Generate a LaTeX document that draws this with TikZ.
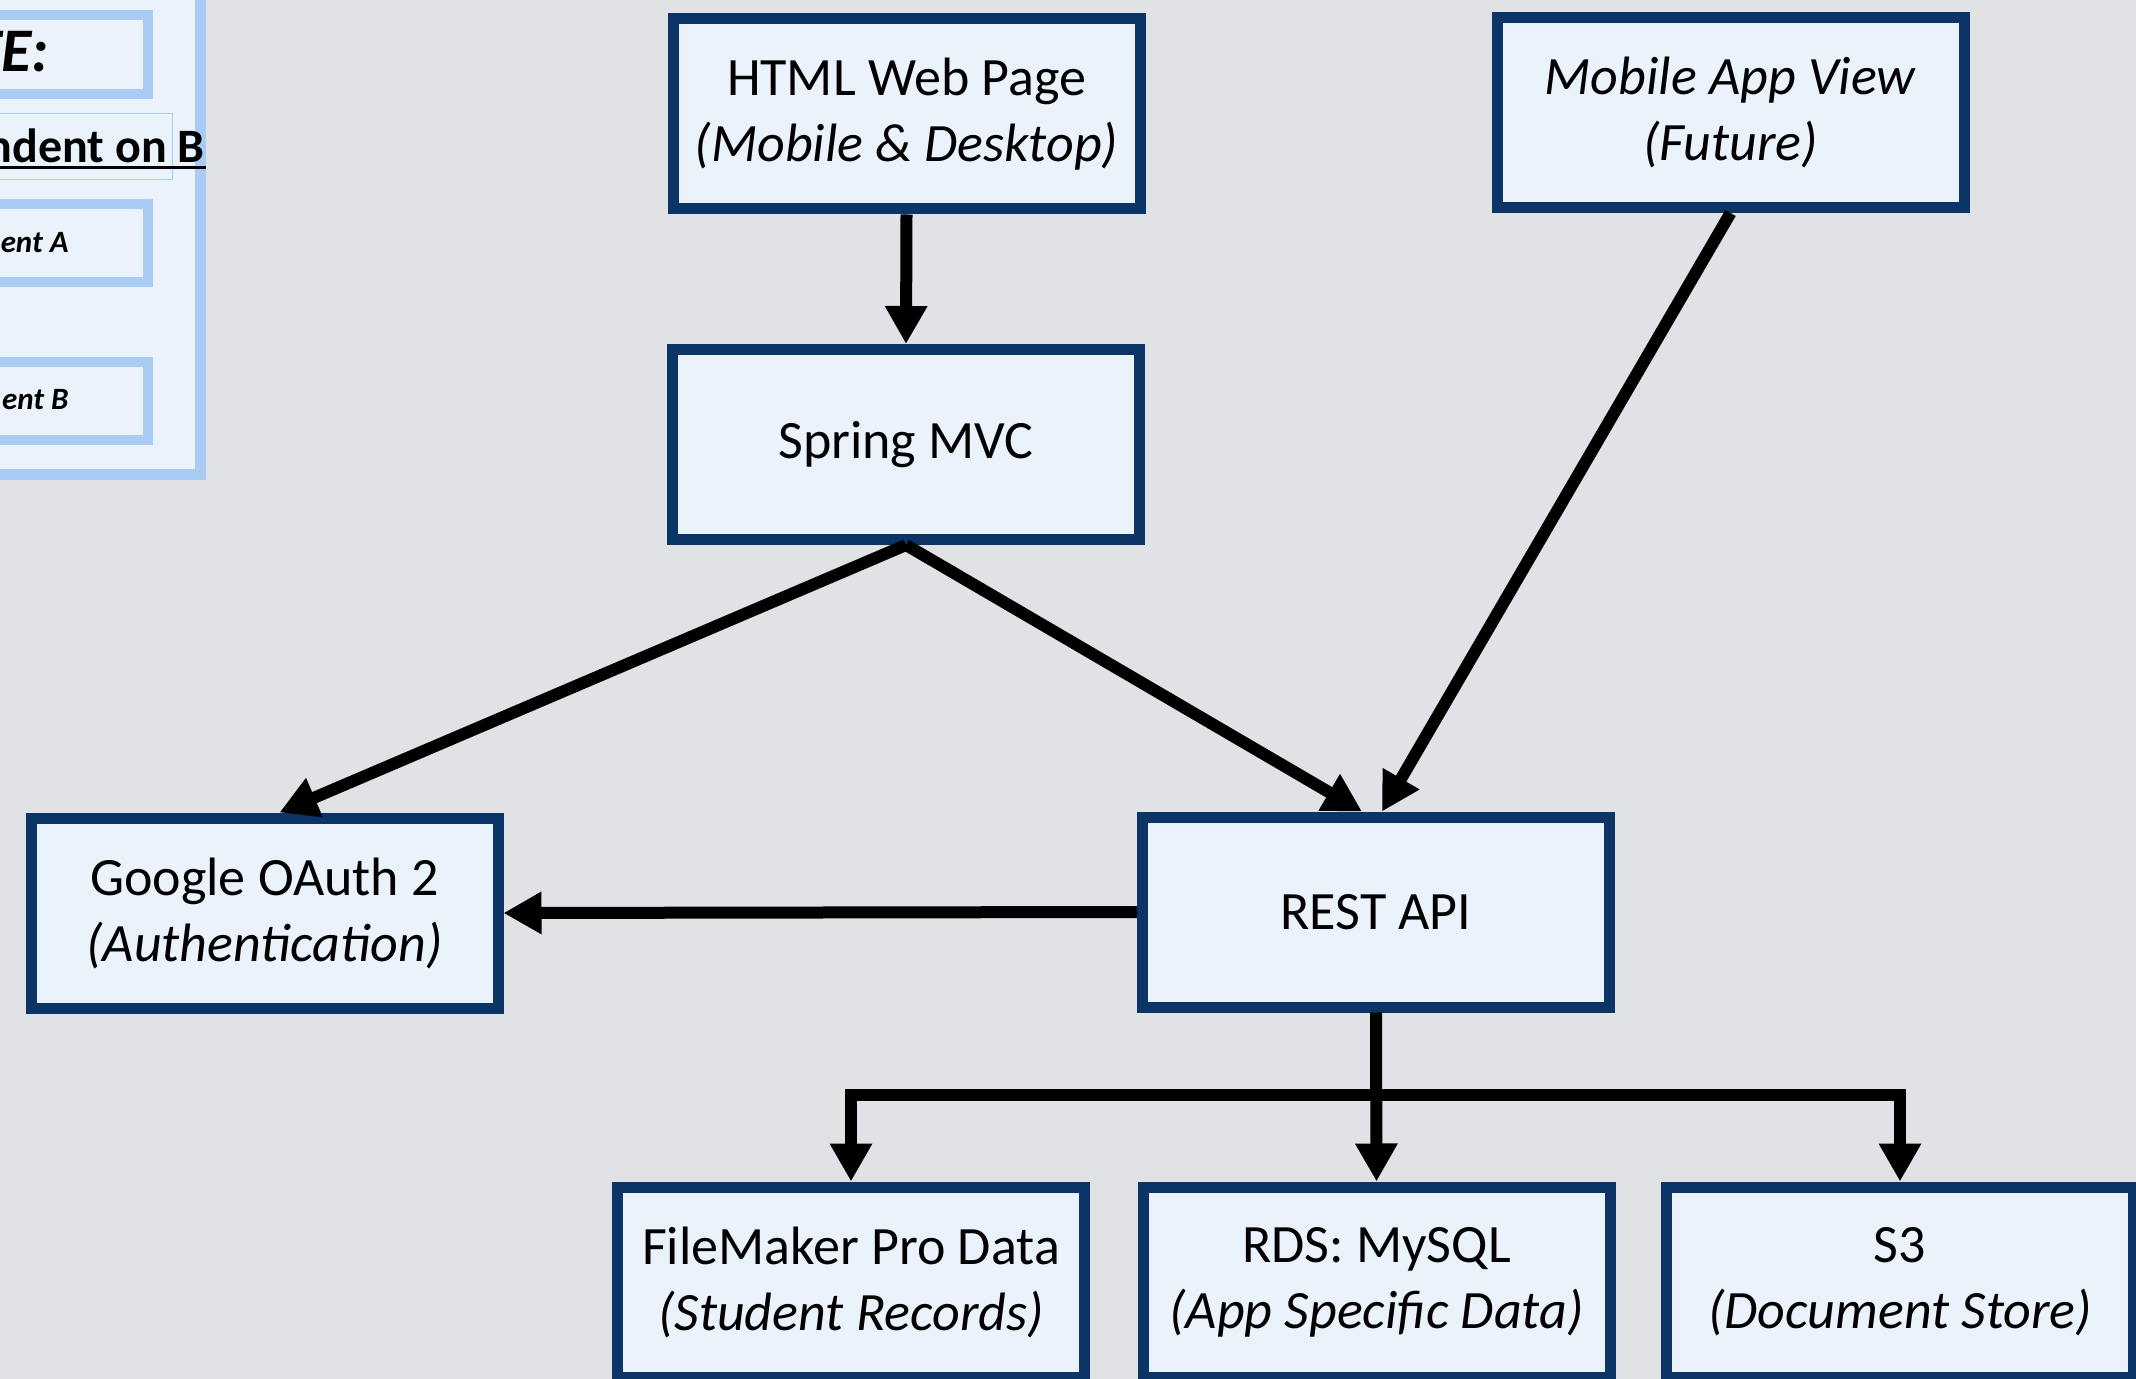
\documentclass[tikz,border=0pt]{standalone}
\usepackage{fontspec}
\setmainfont{Carlito}
\usetikzlibrary{arrows.meta,shadows,calc}
\definecolor{bg}{HTML}{E1E2E6}
\definecolor{boxfill}{HTML}{EAF2FC}
\definecolor{boxline}{HTML}{0B3566}
\definecolor{legline}{HTML}{A8CCF4}
\begin{document}
\begin{tikzpicture}[x=0.5pt,y=-0.5pt,
  box/.style={draw=boxline, fill=boxfill, line width=5.5pt, minimum width=233.5pt,
    minimum height=95pt, align=center, inner sep=0pt,
    font=\fontsize{27}{33}\selectfont,
    drop shadow={shadow xshift=1.5pt, shadow yshift=-1.5pt, opacity=0.25, fill=black}},
  legbox/.style={draw=legline, fill=boxfill, line width=5pt,
    drop shadow={shadow xshift=1.5pt, shadow yshift=-1.5pt, opacity=0.25, fill=black}},
  legtext/.style={anchor=base east, inner sep=0pt},
  conn/.style={line width=6pt, -{Triangle[length=19pt,width=20pt]}}]
\path[use as bounding box, fill=bg] (0,0) rectangle (2136,1379);
\clip (0,0) rectangle (2136,1379);

% legend panel
\path[legbox, line width=5.5pt] (-20,-20) rectangle (200.5,474.5);
\path[legbox] (-20,15) rectangle (148,94);
\path[legbox] (-20,204) rectangle (148,282);
\path[legbox] (-20,362) rectangle (148,440);
\draw[legline, line width=0.5pt] (-5,114) rectangle (172,180);
\node[legtext, font=\fontsize{31}{33}\selectfont\bfseries\itshape] (note) at (49,72) {TE:};
\node[legtext, font=\fontsize{24}{26}\selectfont\bfseries] (dep) at (205,163) {ndent on B};
\draw[line width=1.5pt] (0,168) -- (206,168);
\node[legtext, font=\fontsize{15.5}{17}\selectfont\bfseries\itshape] (compa) at (69,253) {ent A};
\node[legtext, font=\fontsize{15.5}{17}\selectfont\bfseries\itshape] (compb) at (69,410) {ent B};

% main boxes
\node[box] (html) at (906.5,114) {HTML Web Page\\\textit{(Mobile \& Desktop)}};
\node[box] (mobile) at (1730.5,112.5) {\textit{Mobile App View}\\\textit{(Future)}};
\node[box] (spring) at (906,444.5) {Spring MVC};
\node[box] (google) at (264.5,913) {Google OAuth 2\\\textit{(Authentication)}};
\node[box] (rest) at (1376,912) {REST API};
\node[box] (fm) at (851,1282) {FileMaker Pro Data\\\textit{(Student Records)}};
\node[box] (rds) at (1376.5,1282) {RDS: MySQL\\\textit{(App Specific Data)}};
\node[box] (s3) at (1900,1282) {S3\\\textit{(Document Store)}};

% connectors
\draw[conn] (html.south) -- (spring.north);
\draw[conn] (mobile.south) -- ($(rest.north)+(6,0)$);
\draw[conn] (spring.south) -- ($(google.north)+(15,0)$);
\draw[conn] (spring.south) -- ($(rest.north)+(-14,0)$);
\draw[conn] (rest.west) -- (google.east);
\coordinate (bus) at (1376,1095);
\draw[conn] (rest.south) -- (rds.north);
\draw[line width=6pt, {Triangle[length=19pt,width=20pt]}-{Triangle[length=19pt,width=20pt]}]
  (fm.north) |- (bus) -| (s3.north);
\end{tikzpicture}
\end{document}
